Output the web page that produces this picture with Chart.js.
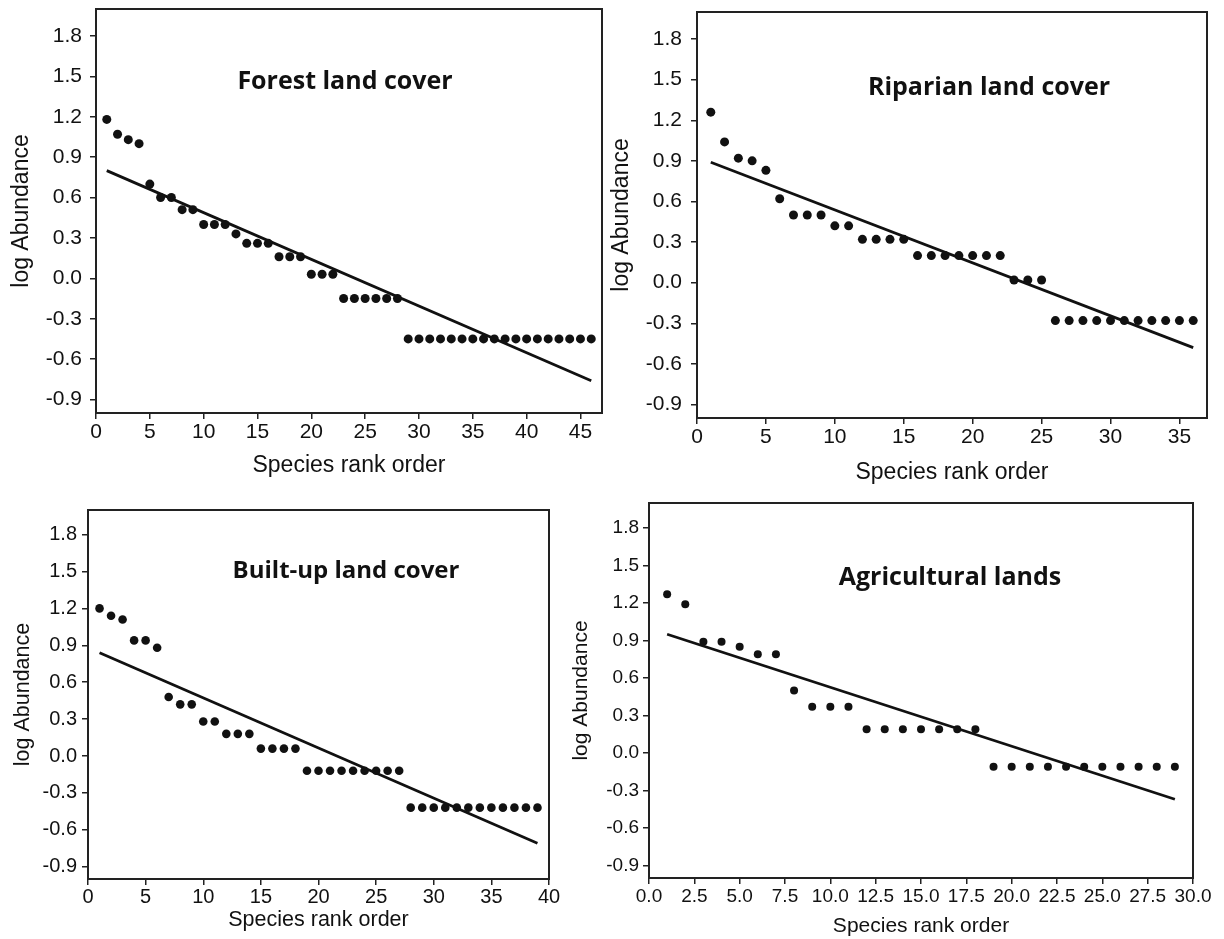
<!DOCTYPE html>
<html>
<head>
<meta charset="utf-8">
<script src="https://cdn.jsdelivr.net/npm/chart.js@4.4.1/dist/chart.umd.min.js"></script>
<style>
 body   {margin:0; background:#ffffff; width:1224px; height:939px; position:relative; overflow:hidden}
 canvas {position:absolute}
</style>
</head>
<body>
<canvas id="forest"></canvas>
<canvas id="riparian"></canvas>
<canvas id="builtup"></canvas>
<canvas id="agri"></canvas>

<script>
// -----------------------------------------------------------------------------------------------//
//                                        D A T A                                                 //
// -----------------------------------------------------------------------------------------------//

// log abundance per species, in rank order (rank 1 first)
var forest_values   = [1.18, 1.07, 1.03, 1.00, 0.70, 0.60, 0.60, 0.51, 0.51, 0.40,
                       0.40, 0.40, 0.33, 0.26, 0.26, 0.26, 0.16, 0.16, 0.16, 0.03,
                       0.03, 0.03, -0.15, -0.15, -0.15, -0.15, -0.15, -0.15, -0.45, -0.45,
                       -0.45, -0.45, -0.45, -0.45, -0.45, -0.45, -0.45, -0.45, -0.45, -0.45,
                       -0.45, -0.45, -0.45, -0.45, -0.45, -0.45];

var riparian_values = [1.26, 1.04, 0.92, 0.90, 0.83, 0.62, 0.50, 0.50, 0.50, 0.42,
                       0.42, 0.32, 0.32, 0.32, 0.32, 0.20, 0.20, 0.20, 0.20, 0.20,
                       0.20, 0.20, 0.02, 0.02, 0.02, -0.28, -0.28, -0.28, -0.28, -0.28,
                       -0.28, -0.28, -0.28, -0.28, -0.28, -0.28];

var builtup_values  = [1.20, 1.14, 1.11, 0.94, 0.94, 0.88, 0.48, 0.42, 0.42, 0.28,
                       0.28, 0.18, 0.18, 0.18, 0.06, 0.06, 0.06, 0.06, -0.12, -0.12,
                       -0.12, -0.12, -0.12, -0.12, -0.12, -0.12, -0.12, -0.42, -0.42, -0.42,
                       -0.42, -0.42, -0.42, -0.42, -0.42, -0.42, -0.42, -0.42, -0.42];

var agri_values     = [1.27, 1.19, 0.89, 0.89, 0.85, 0.79, 0.79, 0.50, 0.37, 0.37,
                       0.37, 0.19, 0.19, 0.19, 0.19, 0.19, 0.19, 0.19, -0.11, -0.11,
                       -0.11, -0.11, -0.11, -0.11, -0.11, -0.11, -0.11, -0.11, -0.11];

// fitted line: value at first rank, value at last rank
var forest_fit   = [0.80, -0.76];
var riparian_fit = [0.89, -0.48];
var builtup_fit  = [0.84, -0.71];
var agri_fit     = [0.95, -0.37];

// tick labels
var y_ticks        = [-0.9, -0.6, -0.3, 0.0, 0.3, 0.6, 0.9, 1.2, 1.5, 1.8];
var forest_ticks   = [0, 5, 10, 15, 20, 25, 30, 35, 40, 45];
var riparian_ticks = [0, 5, 10, 15, 20, 25, 30, 35];
var builtup_ticks  = [0, 5, 10, 15, 20, 25, 30, 35, 40];
var agri_ticks     = [0, 2.5, 5, 7.5, 10, 12.5, 15, 17.5, 20, 22.5, 25, 27.5, 30];

var captions = ["Forest land cover", "Riparian land cover", "Built-up land cover", "Agricultural lands"];
var x_title  = "Species rank order";
var y_title  = "log Abundance";



// -----------------------------------------------------------------------------------------------//
//                                      L A Y O U T                                               //
// -----------------------------------------------------------------------------------------------//

var FONT    = "'Liberation Sans', Arial, sans-serif";
var CAPTION = "'Open Sans', sans-serif";
var INK     = "#111111";

// canvas box, plot box and caption anchor, in page pixels
var layouts =
{
 forest:   {l:0,   t:0,   w:612, h:492, x0:96,  x1:602,  y0:9,   y1:413, xmax:47, dec:0, dot:4.5,
            tick:21, title:23, xpad:1, xtpad:13, ypad:8, ytpad:8, cx:345, cy:89,  csize:25},
 riparian: {l:604, t:0,   w:620, h:492, x0:697, x1:1207, y0:12,  y1:418, xmax:37, dec:0, dot:4.5,
            tick:21, title:23, xpad:1, xtpad:6,  ypad:9, ytpad:4, cx:989, cy:95,  csize:25},
 builtup:  {l:0,   t:488, w:560, h:451, x0:88,  x1:549,  y0:510, y1:879, xmax:40, dec:0, dot:4.3,
            tick:20, title:21.5, xpad:0, xtpad:6,  ypad:5, ytpad:10, cx:346, cy:578, csize:24},
 agri:     {l:560, t:488, w:664, h:451, x0:649, x1:1193, y0:503, y1:878, xmax:30, dec:1, dot:4,
            tick:19, title:21, xpad:1, xtpad:0,  ypad:4, ytpad:9, cx:950, cy:585, csize:25}
};



// frame round the plot area and the caption inside it
var Frame_Plugin =
{
 id: "frame",
 afterDraw: function(chart, args, opts)
 {
  var ctx  = chart.ctx;
  var area = chart.chartArea;

  ctx.save();
  ctx.strokeStyle = "#222222";
  ctx.lineWidth   = 2;
  ctx.strokeRect(area.left, area.top, area.right - area.left, area.bottom - area.top);

  ctx.fillStyle    = INK;
  ctx.font         = "700 " + opts.size + "px " + CAPTION;
  ctx.textAlign    = "center";
  ctx.textBaseline = "alphabetic";
  ctx.fillText(opts.text, opts.x, opts.y);
  ctx.restore();
 }
};



// fixed axis thickness, no extra label padding, so the plot box lands where the layout says
function Axis_Fix(scale, size)
{
 if(scale.isHorizontal()) scale.height = size; else scale.width = size;

 scale.paddingTop    = 0;
 scale.paddingBottom = 0;
 scale.paddingLeft   = 0;
 scale.paddingRight  = 0;
}




function Panel_Create(id, values, fit, ticks, caption)
{
 var box    = layouts[id];
 var canvas = document.getElementById(id);

 canvas.width      = box.w;
 canvas.height     = box.h;
 canvas.style.left = box.l + "px";
 canvas.style.top  = box.t + "px";

 // POINTS (x is the rank)
 var points = values.map(function(v, i) { return {x: i + 1, y: v}; });
 var line   = [{x: 1, y: fit[0]}, {x: values.length, y: fit[1]}];

 var grid   = {drawOnChartArea:false, drawTicks:true, tickLength:6, color:"#222222", lineWidth:1.5};
 var border = {display:true, color:"#222222", width:2};

 // CHART CONFIG
 var config =
 {
  type: "scatter",
  data:
  {
   datasets:
   [
    {data:points, backgroundColor:INK, borderWidth:0, pointRadius:box.dot, pointHoverRadius:box.dot},
    {data:line, showLine:true, borderColor:INK, borderWidth:2.8, pointRadius:0, fill:false}
   ]
  },
  options:
  {
   responsive:       false,
   animation:        false,
   devicePixelRatio: 1,
   events:           [],
   layout:           {padding:{left:0, top:box.y0 - box.t, right:box.l + box.w - box.x1, bottom:0}},
   plugins:
   {
    legend:  {display:false},
    tooltip: {enabled:false},
    frame:   {text:caption, x:box.cx - box.l, y:box.cy - box.t, size:box.csize}
   },
   scales:
   {
    x:
    {
     type: "linear", min:0, max:box.xmax,
     afterBuildTicks: function(scale) { scale.ticks = ticks.map(function(v) { return {value:v}; }); },
     afterFit:        function(scale) { Axis_Fix(scale, box.t + box.h - box.y1); },
     grid, border,
     ticks:
     {
      autoSkip:false, maxRotation:0, minRotation:0, color:INK, padding:box.xpad,
      font:{family:FONT, size:box.tick},
      callback: function(v) { return Number(v).toFixed(box.dec); }
     },
     title: {display:true, text:x_title, color:INK, font:{family:FONT, size:box.title}, padding:{top:0, bottom:box.xtpad}}
    },
    y:
    {
     type: "linear", min:-1, max:2,
     afterBuildTicks: function(scale) { scale.ticks = y_ticks.map(function(v) { return {value:v}; }); },
     afterFit:        function(scale) { Axis_Fix(scale, box.x0 - box.l); },
     grid, border,
     ticks:
     {
      color:INK, padding:box.ypad,
      font:{family:FONT, size:box.tick},
      callback: function(v) { return Number(v).toFixed(1); }
     },
     title: {display:true, text:y_title, color:INK, font:{family:FONT, size:box.title}, padding:{top:box.ytpad, bottom:0}}
    }
   }
  },
  plugins: [Frame_Plugin]
 };

 return new Chart(canvas.getContext("2d"), config);
}




Panel_Create("forest",   forest_values,   forest_fit,   forest_ticks,   captions[0]);
Panel_Create("riparian", riparian_values, riparian_fit, riparian_ticks, captions[1]);
Panel_Create("builtup",  builtup_values,  builtup_fit,  builtup_ticks,  captions[2]);
Panel_Create("agri",     agri_values,     agri_fit,     agri_ticks,     captions[3]);
</script>
</body>
</html>
